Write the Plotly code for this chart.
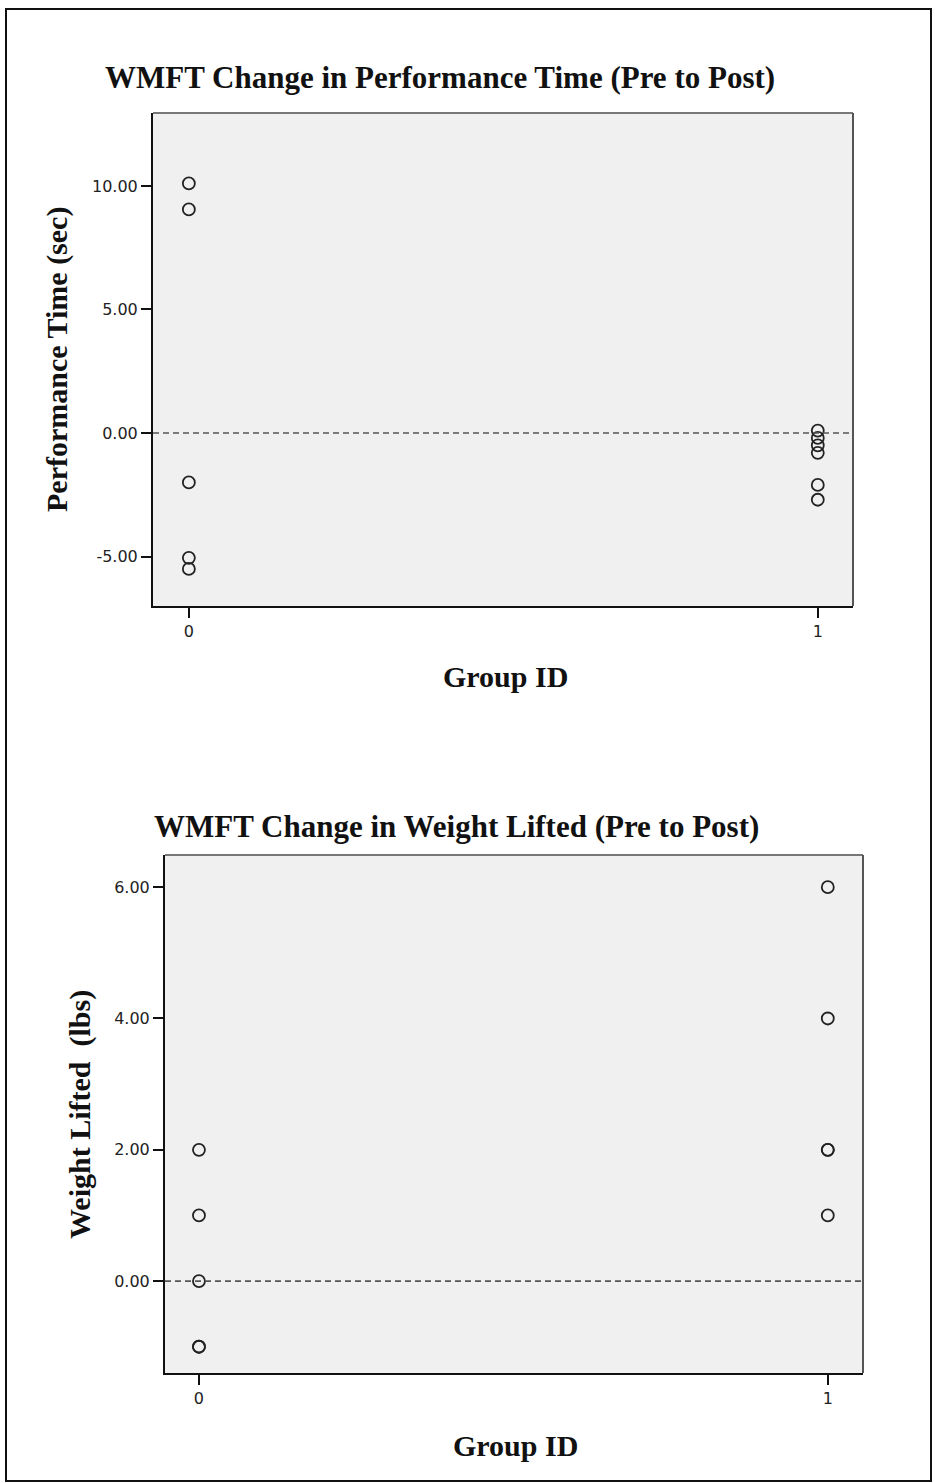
import plotly.graph_objects as go

# ---- data ----
perf_group0 = [10.1, 9.05, -2.0, -5.05, -5.5]
perf_group1 = [0.1, -0.2, -0.5, -0.8, -2.1, -2.7]
weight_group0 = [2.0, 1.0, 0.0, -1.0, -1.0]
weight_group1 = [6.0, 4.0, 2.0, 2.0, 1.0]

group_ticks = [0, 1]
group_labels = ["0", "1"]
perf_ticks = [10, 5, 0, -5]
perf_labels = ["10.00", "5.00", "0.00", "-5.00"]
weight_ticks = [6, 4, 2, 0]
weight_labels = ["6.00", "4.00", "2.00", "0.00"]

title_top = "WMFT Change in Performance Time (Pre to Post)"
title_bottom = "WMFT Change in Weight Lifted (Pre to Post)"
ylabel_top = "Performance Time (sec)"
ylabel_bottom = "Weight Lifted  (lbs)"
xlabel = "Group ID"

W, H = 935, 1483
SERIF = "Liberation Serif"
SANS = "DejaVu Sans"

fig = go.Figure()

marker = dict(symbol="circle-open", size=12, color="#222222", line=dict(width=1.8, color="#222222"))

fig.add_trace(go.Scatter(x=[0] * len(perf_group0), y=perf_group0, mode="markers",
                         marker=marker, xaxis="x", yaxis="y", showlegend=False))
fig.add_trace(go.Scatter(x=[1] * len(perf_group1), y=perf_group1, mode="markers",
                         marker=marker, xaxis="x", yaxis="y", showlegend=False))
fig.add_trace(go.Scatter(x=[0] * len(weight_group0), y=weight_group0, mode="markers",
                         marker=marker, xaxis="x2", yaxis="y2", showlegend=False))
fig.add_trace(go.Scatter(x=[1] * len(weight_group1), y=weight_group1, mode="markers",
                         marker=marker, xaxis="x2", yaxis="y2", showlegend=False))

def px_x(p):
    return p / W

def px_y(p):
    return 1 - p / H

# plot areas (pixels)
t_l, t_r, t_t, t_b = 153, 853, 113, 606
b_l, b_r, b_t, b_b = 165, 863, 855, 1373

tickfont = dict(family=SANS, size=16, color="#222222")
axis_common = dict(showgrid=False, zeroline=False, showline=True, linecolor="#111111",
                   linewidth=2, ticks="outside", ticklen=10, tickwidth=2, tickcolor="#111111",
                   tickfont=tickfont, fixedrange=True)

fig.update_layout(
    width=W, height=H,
    margin=dict(l=0, r=0, t=0, b=0),
    paper_bgcolor="white",
    plot_bgcolor="#f0f0f0",
    xaxis=dict(domain=[px_x(t_l), px_x(t_r)], range=[-0.057, 1.056], anchor="y",
               tickvals=group_ticks, ticktext=group_labels, **axis_common),
    yaxis=dict(domain=[px_y(t_b), px_y(t_t)], range=[-7.0, 12.95], anchor="x",
               tickvals=perf_ticks, ticktext=perf_labels, **axis_common),
    xaxis2=dict(domain=[px_x(b_l), px_x(b_r)], range=[-0.054, 1.056], anchor="y2",
                tickvals=group_ticks, ticktext=group_labels, **axis_common),
    yaxis2=dict(domain=[px_y(b_b), px_y(b_t)], range=[-1.4, 6.49], anchor="x2",
                tickvals=weight_ticks, ticktext=weight_labels, **axis_common),
)

shapes = []
# outer frame
shapes.append(dict(type="rect", xref="paper", yref="paper", x0=px_x(6), x1=px_x(931),
                   y0=px_y(1481), y1=px_y(9), line=dict(color="#111111", width=2)))
# top & right border of plot boxes in gray
for (l, r, t, b) in [(t_l, t_r, t_t, t_b), (b_l, b_r, b_t, b_b)]:
    shapes.append(dict(type="line", xref="paper", yref="paper", x0=px_x(l), x1=px_x(r),
                       y0=px_y(t), y1=px_y(t), line=dict(color="#777777", width=2)))
    shapes.append(dict(type="line", xref="paper", yref="paper", x0=px_x(r), x1=px_x(r),
                       y0=px_y(t), y1=px_y(b), line=dict(color="#555555", width=2)))
# dashed reference lines at zero
shapes.append(dict(type="line", xref="x domain", yref="y", x0=0, x1=1, y0=0, y1=0,
                   line=dict(color="#555555", width=1.6, dash="6px,4px")))
shapes.append(dict(type="line", xref="x2 domain", yref="y2", x0=0, x1=1, y0=0, y1=0,
                   line=dict(color="#555555", width=1.6, dash="6px,4px")))
fig.update_layout(shapes=shapes)

titlefont = dict(family=SERIF, size=31, color="#111111")
labelfont = dict(family=SERIF, size=30, color="#111111")
annotations = [
    dict(text="<b>" + title_top + "</b>", x=px_x(440), y=px_y(78), font=titlefont),
    dict(text="<b>" + title_bottom + "</b>", x=px_x(456), y=px_y(826), font=titlefont),
    dict(text="<b>" + xlabel + "</b>", x=px_x(505), y=px_y(676), font=labelfont),
    dict(text="<b>" + xlabel + "</b>", x=px_x(515), y=px_y(1445), font=labelfont),
    dict(text="<b>" + ylabel_top + "</b>", x=px_x(57), y=px_y(360), font=labelfont, textangle=-90),
    dict(text="<b>" + ylabel_bottom + "</b>", x=px_x(80), y=px_y(1115), font=labelfont, textangle=-90),
]
for a in annotations:
    a.update(xref="paper", yref="paper", showarrow=False, xanchor="center", yanchor="middle")
fig.update_layout(annotations=annotations)

fig.write_html("out.html", config={"displayModeBar": False},
               post_script="document.body.style.margin='0';")
